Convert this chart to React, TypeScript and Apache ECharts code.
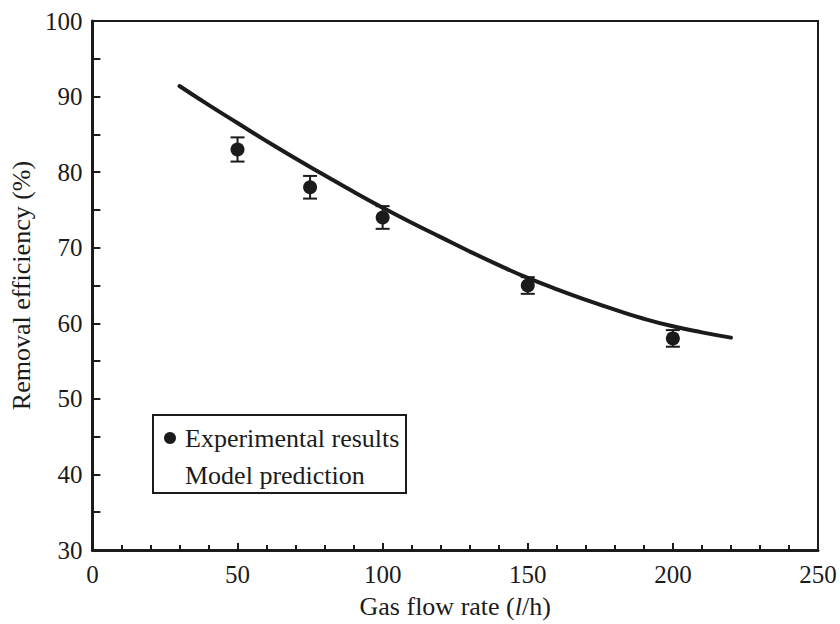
import React, { useEffect, useRef } from "react";
import * as echarts from "echarts";

// Measured removal efficiency with its uncertainty
const flowRates = [50, 75, 100, 150, 200];
const efficiency = [83, 78, 74, 65, 58];
const errorHalf = [1.6, 1.5, 1.5, 1.1, 1.1];

// Model prediction curve
const modelFlow = [30, 40, 50, 60, 70, 80, 90, 100, 110, 120, 130, 140, 150, 160, 170, 180, 190, 200, 210, 220];
const modelEff = [91.4, 88.9, 86.5, 84.1, 81.8, 79.6, 77.4, 75.3, 73.3, 71.4, 69.5, 67.7, 66.0, 64.5, 63.1, 61.8, 60.6, 59.6, 58.8, 58.1];

const legendLabels = ["Experimental results", "Model prediction"];

const INK = "#1b1b1b";
const FONT = "'Liberation Serif', 'Times New Roman', serif";
const FS = 26;
const FS_TICK = 25;

export default function App() {
  const ref = useRef<HTMLDivElement>(null);

  useEffect(() => {
    if (!ref.current) return;
    const chart = echarts.init(ref.current, null, { renderer: "svg" });

    const points = flowRates.map((x, i) => [x, efficiency[i]]);
    const errors = flowRates.map((x, i) => [x, efficiency[i] - errorHalf[i], efficiency[i] + errorHalf[i]]);
    const curve = modelFlow.map((x, i) => [x, modelEff[i]]);

    chart.setOption({
      animation: false,
      backgroundColor: "#ffffff",
      textStyle: { fontFamily: FONT },
      grid: {
        left: 91,
        right: 22,
        top: 21,
        bottom: 74,
        show: true,
        borderColor: INK,
        borderWidth: 2,
        backgroundColor: "transparent",
      },
      xAxis: {
        type: "value",
        min: 0,
        max: 250,
        interval: 50,
        name: "Gas flow rate ({i|l}/h)",
        nameLocation: "middle",
        nameGap: 43,
        nameTextStyle: {
          fontFamily: FONT,
          fontSize: FS,
          color: INK,
          rich: { i: { fontFamily: FONT, fontSize: FS, fontStyle: "italic", color: INK } },
        },
        axisLine: { show: true, lineStyle: { color: INK, width: 3 } },
        axisTick: { show: true, inside: true, length: 7, lineStyle: { color: INK, width: 2 } },
        minorTick: { show: true, splitNumber: 5, length: 5, lineStyle: { color: INK, width: 2 } },
        splitLine: { show: false },
        axisLabel: { fontFamily: FONT, fontSize: FS_TICK, color: INK, margin: 12 },
      },
      yAxis: {
        type: "value",
        min: 30,
        max: 100,
        interval: 10,
        name: "Removal efficiency (%)",
        nameLocation: "middle",
        nameGap: 56,
        nameTextStyle: { fontFamily: FONT, fontSize: FS, color: INK },
        axisLine: { show: true, lineStyle: { color: INK, width: 3 } },
        axisTick: { show: true, inside: true, length: 8, lineStyle: { color: INK, width: 2 } },
        minorTick: { show: true, splitNumber: 2, length: 8, lineStyle: { color: INK, width: 2 } },
        splitLine: { show: false },
        axisLabel: { fontFamily: FONT, fontSize: FS_TICK, color: INK, margin: 10 },
      },
      series: [
        {
          name: legendLabels[1],
          type: "line",
          data: curve,
          smooth: true,
          showSymbol: false,
          lineStyle: { color: INK, width: 4, cap: "round" },
          z: 2,
        },
        {
          name: "error",
          type: "custom",
          data: errors,
          renderItem: (_params: any, api: any) => {
            const x = api.value(0);
            const lo = api.coord([x, api.value(1)]);
            const hi = api.coord([x, api.value(2)]);
            const half = 7;
            const style = { stroke: INK, lineWidth: 2 };
            return {
              type: "group",
              children: [
                { type: "line", shape: { x1: lo[0], y1: lo[1], x2: hi[0], y2: hi[1] }, style },
                { type: "line", shape: { x1: lo[0] - half, y1: lo[1], x2: lo[0] + half, y2: lo[1] }, style },
                { type: "line", shape: { x1: hi[0] - half, y1: hi[1], x2: hi[0] + half, y2: hi[1] }, style },
              ],
            };
          },
          z: 3,
        },
        {
          name: legendLabels[0],
          type: "scatter",
          data: points,
          symbol: "circle",
          symbolSize: 14,
          itemStyle: { color: INK, opacity: 1 },
          z: 4,
        },
      ],
      graphic: [
        {
          type: "rect",
          shape: { x: 153, y: 415, width: 253, height: 78 },
          style: { fill: "#ffffff", stroke: INK, lineWidth: 2 },
          z: 10,
        },
        {
          type: "circle",
          shape: { cx: 170, cy: 438, r: 6 },
          style: { fill: INK },
          z: 11,
        },
        {
          type: "text",
          x: 185,
          y: 438,
          style: {
            text: legendLabels[0],
            fontFamily: FONT,
            fontSize: FS,
            fill: INK,
            verticalAlign: "middle",
          },
          z: 11,
        },
        {
          type: "text",
          x: 185,
          y: 475,
          style: {
            text: legendLabels[1],
            fontFamily: FONT,
            fontSize: FS,
            fill: INK,
            verticalAlign: "middle",
          },
          z: 11,
        },
      ],
    });

    return () => chart.dispose();
  }, []);

  return <div ref={ref} style={{ width: 840, height: 624, position: "absolute", left: 0, top: 0 }} />;
}
